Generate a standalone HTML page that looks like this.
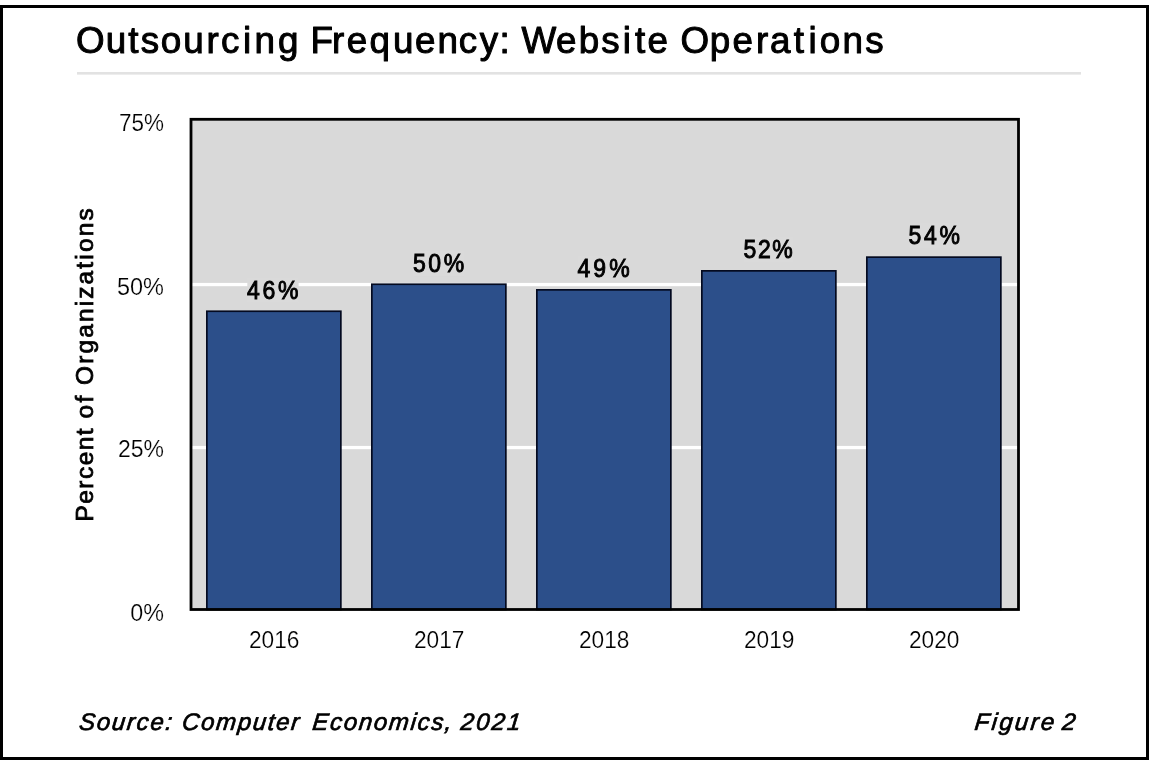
<!DOCTYPE html>
<html lang="en"><head><meta charset="utf-8"><title>Outsourcing Frequency: Website Operations</title>
<style>
html,body{margin:0;padding:0;background:#fff;}
body{width:1152px;height:768px;overflow:hidden;}
svg{display:block;}
text{font-family:"Liberation Sans",Arial,Helvetica,sans-serif;fill:#000;}
</style></head><body>
<svg width="1152" height="768" viewBox="0 0 1152 768">
<rect x="0" y="0" width="1152" height="768" fill="#fff"/>
<rect x="1.5" y="6.5" width="1146" height="752" fill="none" stroke="#000" stroke-width="3"/>

<g id="title">
<text x="76.0 105.7 128.2 140.7 160.7 183.3 206.4 221.1 243.0 254.4 278.0 290.0 310.5 332.0 346.7 369.5 392.9 415.1 437.5 458.8 479.8 499.6 511.6 521.4 556.1 578.7 601.3 622.8 635.0 647.6 659.6 680.4 709.7 732.6 756.1 769.9 793.8 808.4 819.8 842.6 865.3" y="53" font-size="36.8" stroke="#000" stroke-width="1" stroke-linejoin="round">Outsourcing Frequency: Website Operations</text>
</g>
<rect x="77" y="72" width="1004" height="2.6" fill="#e2e2e2"/>
<rect x="191" y="119.3" width="827.5" height="490.2" fill="#d9d9d9"/>
<rect x="191" y="282.9" width="827" height="3.3" fill="#fff"/>
<rect x="191" y="445.9" width="827" height="3.3" fill="#fff"/>
<rect x="206.85" y="311.25" width="134.0" height="298.25" fill="#2c4f8a" stroke="#040a20" stroke-width="1.7"/>
<rect x="371.85" y="284.25" width="134.0" height="325.25" fill="#2c4f8a" stroke="#040a20" stroke-width="1.7"/>
<rect x="536.85" y="289.85" width="134.0" height="319.65" fill="#2c4f8a" stroke="#040a20" stroke-width="1.7"/>
<rect x="701.85" y="270.85" width="134.0" height="338.65" fill="#2c4f8a" stroke="#040a20" stroke-width="1.7"/>
<rect x="866.85" y="257.15" width="134.0" height="352.35" fill="#2c4f8a" stroke="#040a20" stroke-width="1.7"/>
<rect x="191" y="119.3" width="827.5" height="490.2" fill="none" stroke="#000" stroke-width="2.8"/>
<rect x="247.3" y="277.6" width="51.3" height="25" fill="#dadada"/>
<g transform="translate(247.1,298.6) scale(0.92,1)"><text x="0" y="0" font-size="25.0" textLength="55.76" lengthAdjust="spacing" stroke="#000" stroke-width="0.95">46%</text></g>
<rect x="413.2" y="251.1" width="51.0" height="25" fill="#dadada"/>
<g transform="translate(413.1,272.1) scale(0.92,1)"><text x="0" y="0" font-size="25.0" textLength="55.43" lengthAdjust="spacing" stroke="#000" stroke-width="0.95">50%</text></g>
<rect x="577.6" y="256.3" width="52.2" height="25" fill="#dadada"/>
<g transform="translate(577.4,277.3) scale(0.92,1)"><text x="0" y="0" font-size="25.0" textLength="56.74" lengthAdjust="spacing" stroke="#000" stroke-width="0.95">49%</text></g>
<rect x="743.7" y="237.2" width="49.3" height="25" fill="#dadada"/>
<g transform="translate(743.5,258.2) scale(0.92,1)"><text x="0" y="0" font-size="25.0" textLength="53.59" lengthAdjust="spacing" stroke="#000" stroke-width="0.95">52%</text></g>
<rect x="908.7" y="223.3" width="51.5" height="25" fill="#dadada"/>
<g transform="translate(908.5,244.3) scale(0.92,1)"><text x="0" y="0" font-size="25.0" textLength="55.98" lengthAdjust="spacing" stroke="#000" stroke-width="0.95">54%</text></g>
<text x="248.95" y="648.2" font-size="24.4" textLength="50.5" lengthAdjust="spacingAndGlyphs" stroke="#fff" stroke-width="0.22">2016</text>
<text x="413.95" y="648.2" font-size="24.4" textLength="50.5" lengthAdjust="spacingAndGlyphs" stroke="#fff" stroke-width="0.22">2017</text>
<text x="578.95" y="648.2" font-size="24.4" textLength="50.5" lengthAdjust="spacingAndGlyphs" stroke="#fff" stroke-width="0.22">2018</text>
<text x="743.95" y="648.2" font-size="24.4" textLength="50.5" lengthAdjust="spacingAndGlyphs" stroke="#fff" stroke-width="0.22">2019</text>
<text x="908.95" y="648.2" font-size="24.4" textLength="50.5" lengthAdjust="spacingAndGlyphs" stroke="#fff" stroke-width="0.22">2020</text>
<text x="119" y="131.3" font-size="23.5" textLength="45" lengthAdjust="spacingAndGlyphs" stroke="#fff" stroke-width="0.22">75%</text>
<text x="117" y="294.7" font-size="23.5" textLength="47" lengthAdjust="spacingAndGlyphs" stroke="#fff" stroke-width="0.22">50%</text>
<text x="118" y="457.2" font-size="23.5" textLength="46" lengthAdjust="spacingAndGlyphs" stroke="#fff" stroke-width="0.22">25%</text>
<text x="130.3" y="620.7" font-size="23.5" textLength="33.7" lengthAdjust="spacingAndGlyphs" stroke="#fff" stroke-width="0.22">0%</text>
<text transform="translate(93.3,520) rotate(-90)" font-size="24.4" stroke="#000" stroke-width="0.8"><tspan x="-1.5" textLength="93.1" lengthAdjust="spacing">Percent</tspan> <tspan x="101.6 117.6">of</tspan> <tspan x="135" textLength="176.6" lengthAdjust="spacing">Organizations</tspan></text>
<text transform="translate(0,730.2) skewX(-6)" font-size="24" font-style="italic" stroke="#000" stroke-width="0.72"><tspan x="78.5" textLength="93.0" lengthAdjust="spacing">Source:</tspan> <tspan x="181.5" textLength="117.0" lengthAdjust="spacing">Computer</tspan> <tspan x="311.8" textLength="139.2" lengthAdjust="spacing">Economics,</tspan> <tspan x="459.9" textLength="60.0" lengthAdjust="spacing">2021</tspan></text>
<text transform="translate(0,730.2) skewX(-6)" font-size="24" font-style="italic" stroke="#000" stroke-width="0.72"><tspan x="974.1" textLength="79.4" lengthAdjust="spacing">Figure</tspan> <tspan x="1061.5" textLength="17.1" lengthAdjust="spacing">2</tspan></text>
</svg></body></html>
